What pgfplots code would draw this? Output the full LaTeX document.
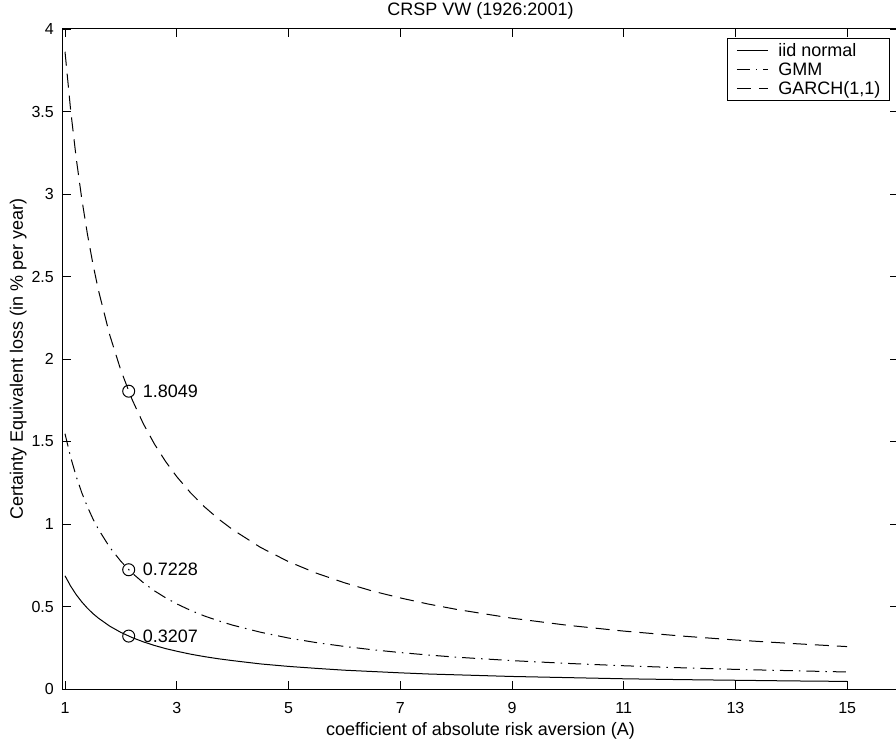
\documentclass[border=0pt]{standalone}
\usepackage{fontspec}
\setmainfont{Liberation Sans}
\usepackage{pgfplots}
\pgfplotsset{compat=1.18}
\usepackage{pgfplotstable}

% certainty equivalent loss (% per year) against A
\pgfplotstableread{
A     iid    gmm    garch
1     0.686  1.547  3.862
1.1   0.624  1.406  3.511
1.2   0.572  1.289  3.218
1.3   0.528  1.190  2.971
1.4   0.490  1.105  2.759
1.5   0.457  1.031  2.575
1.6   0.429  0.967  2.414
1.8   0.381  0.859  2.146
2.0   0.343  0.774  1.931
2.2   0.312  0.703  1.755
2.4   0.286  0.645  1.609
2.6   0.264  0.595  1.485
2.8   0.245  0.553  1.379
3.0   0.229  0.516  1.287
3.25  0.211  0.476  1.188
3.5   0.196  0.442  1.103
3.75  0.183  0.413  1.030
4     0.172  0.387  0.966
4.5   0.152  0.344  0.858
5     0.137  0.309  0.772
5.5   0.125  0.281  0.702
6     0.114  0.258  0.644
6.5   0.106  0.238  0.594
7     0.098  0.221  0.552
7.5   0.091  0.206  0.515
8     0.086  0.193  0.483
9     0.076  0.172  0.429
10    0.069  0.155  0.386
11    0.062  0.141  0.351
12    0.057  0.129  0.322
13    0.053  0.119  0.297
14    0.049  0.111  0.276
15    0.046  0.103  0.257
}\celoss

\newcommand\ls{\rule[-3pt]{0pt}{13pt}}

\begin{document}
\begin{tikzpicture}[font=\fontsize{18}{21}\selectfont]
\begin{axis}[
    scale only axis,
    width=835pt, height=660pt,
    xmin=0.964, xmax=15.91,
    ymin=0, ymax=4,
    xtick={1,3,...,15},
    ytick={0,0.5,...,4},
    tick align=inside,
    major tick length=8pt,
    every tick/.style={black, line width=0.8pt},
    axis line style={line width=1pt},
    /pgf/number format/assume math mode=true,
    tick label style={font=\fontsize{16}{19}\selectfont},
    xticklabel style={anchor=base, inner sep=0pt, yshift=-24pt},
    yticklabel style={anchor=east, inner sep=0pt, xshift=-9pt},
    title={CRSP VW (1926:2001)},
    title style={at={(0.5,1)}, anchor=base, inner sep=0pt, yshift=7pt},
    xlabel={coefficient of absolute risk aversion (A)},
    xlabel style={at={(axis description cs:0.5,0)}, anchor=base, inner sep=0pt, yshift=-46pt},
    ylabel={Certainty Equivalent loss (in \% per year)},
    ylabel style={at={([xshift=-40pt]axis description cs:0,0.5)}, anchor=base, inner sep=0pt},
    legend cell align=left,
    legend image code/.code={\draw[#1] (0pt,0pt) -- (31pt,0pt);},
    legend style={at={(0.9904,0.9864)}, anchor=north east, draw=black,
        line width=1pt, inner xsep=9pt, inner ysep=5pt, row sep=4.5pt,
        nodes={inner sep=0pt},
        /tikz/every odd column/.append style={column sep=10pt}},
]
\addplot[black, line width=1pt] table[x=A, y=iid] {\celoss};
\addlegendentry{\ls iid normal}
\addplot[black, line width=1pt, dash pattern=on 13pt off 6pt on 1.5pt off 6pt] table[x=A, y=gmm] {\celoss};
\addlegendentry{\ls GMM}
\addplot[black, line width=1pt, dash pattern=on 14pt off 8pt] table[x=A, y=garch] {\celoss};
\addlegendentry{\ls GARCH(1,1)}
\addplot[forget plot, only marks, mark=o, mark size=6pt, black, line width=1pt,
    nodes near coords, point meta=explicit symbolic,
    nodes near coords align={horizontal},
    every node near coord/.append style={anchor=west, inner sep=0pt, xshift=13.7pt}]
    coordinates {(2.14,1.8049)[1.8049] (2.14,0.7228)[0.7228] (2.14,0.3207)[0.3207]};
\end{axis}
\pgfresetboundingbox
\path[use as bounding box] ([xshift=-63pt,yshift=-53pt]current axis.south west)
    rectangle ([xshift=833pt,yshift=29pt]current axis.north west);
\end{tikzpicture}
\end{document}
